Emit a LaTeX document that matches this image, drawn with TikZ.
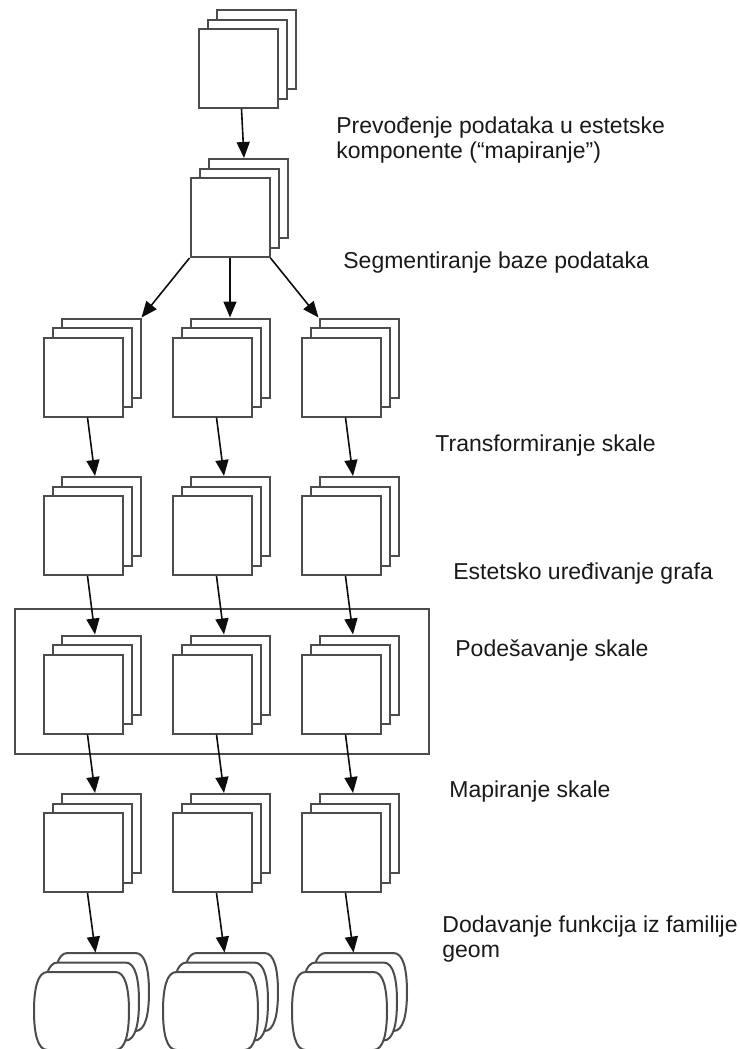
\documentclass[tikz,border=0pt]{standalone}
\usepackage{fontspec}
\setmainfont{Liberation Sans}
\usetikzlibrary{arrows.meta}

\newlength{\du}
\setlength{\du}{0.5pt}

\definecolor{listcolor}{rgb}{0.300000, 0.300000, 0.300000}
\definecolor{strelcolor}{rgb}{0.050000, 0.050000, 0.050000}

\tikzset{
  list/.style={draw=listcolor, fill=white, line width=1pt, minimum width=39.5pt, minimum height=39.5pt, inner sep=0pt},
  oblik/.style={minimum width=47.5pt, minimum height=39pt, inner sep=0pt},
  rub/.style={draw=listcolor, fill=white, line width=1pt},
  okvir/.style={draw=listcolor, line width=1pt, minimum width=207pt, minimum height=72.5pt, inner sep=0pt},
  strel/.style={draw=strelcolor, line width=0.8pt, -{Triangle[length=8pt,width=6.5pt]}},
  opis/.style={anchor=base west, inner sep=0pt, align=left, text=black!90, font=\fontsize{11.5pt}{12.5pt}\selectfont}
}

% tri lista jedan iza drugoga: ime, x i y prednjeg lista
\newcommand{\hrpa}[3]{%
  \node[list] (#1b) at (#2+18,#3-19) {};
  \node[list] (#1m) at (#2+9,#3-9.5) {};
  \node[list] (#1f) at (#2,#3) {};
}
% jedan zaobljeni oblik oko sredista x, y
\newcommand{\bacva}[2]{%
  \path[rub] (#1-34,#2-39) -- (#1+34,#2-39)
    .. controls (#1+44,#2-39) and (#1+47.5,#2-22) .. (#1+47.5,#2)
    .. controls (#1+47.5,#2+22) and (#1+44,#2+39) .. (#1+34,#2+39)
    -- (#1-34,#2+39)
    .. controls (#1-44,#2+39) and (#1-47.5,#2+22) .. (#1-47.5,#2)
    .. controls (#1-47.5,#2-22) and (#1-44,#2-39) .. (#1-34,#2-39) -- cycle;
}
% isto kao \hrpa, ali zaobljeni oblici (geom)
\newcommand{\hrpaobla}[3]{%
  \bacva{#2+20}{#3-19}
  \node[oblik] (#1b) at (#2+20,#3-19) {};
  \bacva{#2+10}{#3-9.5}
  \node[oblik] (#1m) at (#2+10,#3-9.5) {};
  \bacva{#2}{#3}
  \node[oblik] (#1f) at (#2,#3) {};
}

\begin{document}
\begin{tikzpicture}[x=\du,y=\du]
\pgftransformxscale{1.000000}
\pgftransformyscale{-1.000000}
\useasboundingbox (0,0) rectangle (739,1049);

% podaci i komponente
\hrpa{dat}{238.5}{68.5}
\hrpa{kom}{230}{217.5}

% okvir oko podesavanja skale
\node[okvir] (pods) at (222,681.5) {};

% stupci
\hrpa{seg1}{83}{377}
\hrpa{seg2}{212}{377}
\hrpa{seg3}{341}{377}
\hrpa{trf1}{83}{535.5}
\hrpa{trf2}{212}{535.5}
\hrpa{trf3}{341}{535.5}
\hrpa{ure1}{83}{694}
\hrpa{ure2}{212}{694}
\hrpa{ure3}{341}{694}
\hrpa{mps1}{83}{852.5}
\hrpa{mps2}{212}{852.5}
\hrpa{mps3}{341}{852.5}
\hrpaobla{geo1}{81.5}{1011}
\hrpaobla{geo2}{210.5}{1011}
\hrpaobla{geo3}{339.5}{1011}

% strelice
\draw[strel] ([xshift=1.5pt]datf.south) -- ([xshift=-2pt]komb.north);
\draw[strel] (komf.south west) -- (seg1b.north east);
\draw[strel] (komf.south) -- (seg2b.north);
\draw[strel] (komf.south east) -- (seg3b.north west);

\draw[strel] ([xshift=2.25pt]seg1f.south) -- ([xshift=-3pt]trf1b.north);
\draw[strel] ([xshift=2.25pt]seg2f.south) -- ([xshift=-3pt]trf2b.north);
\draw[strel] ([xshift=2.25pt]seg3f.south) -- ([xshift=-3pt]trf3b.north);
\draw[strel] ([xshift=2.25pt]trf1f.south) -- ([xshift=-3pt]ure1b.north);
\draw[strel] ([xshift=2.25pt]trf2f.south) -- ([xshift=-3pt]ure2b.north);
\draw[strel] ([xshift=2.25pt]trf3f.south) -- ([xshift=-3pt]ure3b.north);
\draw[strel] ([xshift=2.25pt]ure1f.south) -- ([xshift=-3pt]mps1b.north);
\draw[strel] ([xshift=2.25pt]ure2f.south) -- ([xshift=-3pt]mps2b.north);
\draw[strel] ([xshift=2.25pt]ure3f.south) -- ([xshift=-3pt]mps3b.north);
\draw[strel] ([xshift=2.25pt]mps1f.south) -- ([xshift=-3pt]geo1b.north);
\draw[strel] ([xshift=2.25pt]mps2f.south) -- ([xshift=-3pt]geo2b.north);
\draw[strel] ([xshift=2.25pt]mps3f.south) -- ([xshift=-3pt]geo3b.north);

% opisi koraka (kod dva retka y je za drugi redak)
\node[opis] (prev) at (336,158) {Prevođenje podataka u estetske\\komponente (“mapiranje”)};
\node[opis] (segm) at (343,268) {Segmentiranje baze podataka};
\node[opis] (tran) at (435,451) {Transformiranje skale};
\node[opis] (estu) at (453,579) {Estetsko uređivanje grafa};
\node[opis] (pode) at (455,656) {Podešavanje skale};
\node[opis] (mapi) at (449,797) {Mapiranje skale};
\node[opis] (doda) at (442,957) {Dodavanje funkcija iz familije\\geom};
\end{tikzpicture}
\end{document}
